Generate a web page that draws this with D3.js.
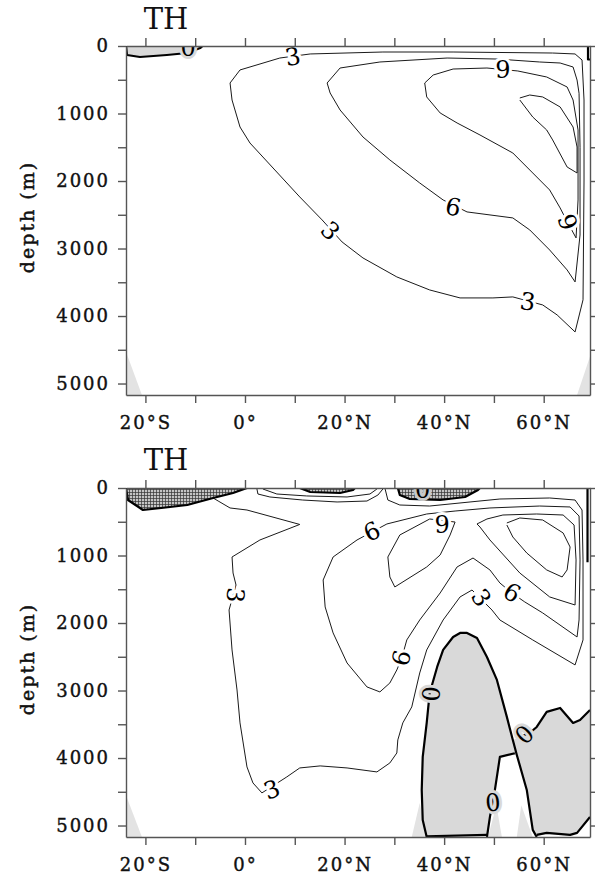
<!DOCTYPE html>
<html>
<head>
<meta charset="utf-8">
<script src="https://cdn.jsdelivr.net/npm/d3@7"></script>
<style>
	body { margin: 0; background: #fff; }
	svg { display: block; }
</style>
</head>
<body>
<div id="chart"></div>
<script>
// Axis ticks and labels
const latTicks = [-20, -10, 0, 10, 20, 30, 40, 50, 60];
const latLabels = { "-20": "20°S", "0": "0°", "20": "20°N", "40": "40°N", "60": "60°N" };
const depthTicks = [0, 500, 1000, 1500, 2000, 2500, 3000, 3500, 4000, 4500, 5000];

// Bottom topography (light grey wedges), [lat, depth]
const topoTop = [
	[[-23.9, 4530], [-23.9, 5170], [-20.7, 5170]],
	[[66.7, 5170], [69.3, 4600], [69.3, 5170]],
];
const topoBot = [
	[[-23.9, 4550], [-23.9, 5170], [-20.7, 5170]],
	[[33.5, 5170], [35.1, 4665], [36.5, 5170]],
	[[48.8, 5170], [50.5, 4700], [51.6, 5170]],
	[[54.6, 5170], [55.5, 4700], [57.8, 5170]],
];

// ---- upper panel, contours as [lat, depth] ----
const topNeg = [[-23.9, 0], [-23.7, 133], [-21.1, 163], [-15.7, 133], [-11.6, 104], [-9.0, 30], [-8.5, 0]];
const topWall0 = [[68.9, 0], [68.9, 200], [69.3, 200]];
const top3 = [[66.3, 4236], [67.9, 3760], [68.1, 2000], [68.1, 800], [67.7, 207], [66.3, 118], [61.8, 104],
	[41.8, 89], [27.7, 89], [13.1, 118], [7.0, 178], [-1.0, 355], [-3.0, 548], [-2.6, 800], [-1.0, 1200],
	[1.0, 1437], [11.0, 2236], [15.5, 2577], [19.5, 2903], [23.7, 3140], [30.5, 3421], [37.1, 3614],
	[43.2, 3732], [49.8, 3732], [53.8, 3717], [59.8, 3836], [62.7, 3984], [66.3, 4236]];
const top6 = [[66.3, 3495], [67.3, 2800], [67.3, 1500], [67.1, 700], [66.7, 504], [65.9, 311], [63.3, 252],
	[59.2, 237], [50.6, 193], [40.6, 178], [27.1, 237], [19.1, 326], [16.5, 548], [17.1, 696], [19.1, 948],
	[23.7, 1348], [29.1, 1688], [35.1, 2029], [39.8, 2281], [44.6, 2458], [53.8, 2547], [57.2, 2725],
	[61.2, 3022], [64.7, 3317], [66.3, 3495]];
const top9 = [[66.5, 2843], [66.9, 2281], [66.9, 1244], [65.9, 800], [64.7, 607], [60.6, 459], [54.8, 370],
	[48.6, 326], [41.8, 341], [37.8, 430], [36.1, 548], [36.5, 755], [39.2, 992], [42.6, 1140], [47.2, 1318],
	[53.8, 1585], [57.8, 1881], [61.2, 2133], [63.3, 2399], [64.7, 2600], [66.5, 2843]];
const top12 = [[55.2, 770], [57.2, 726], [59.8, 755], [63.3, 903], [65.9, 1200], [66.7, 1496], [66.7, 1881],
	[64.7, 1792], [61.8, 1392], [60.6, 1244], [57.8, 1052], [55.2, 800]];
const topLabels = [
	{ t: "3", lat: 9.6, d: 163, r: -10 },
	{ t: "3", lat: 17.1, d: 2740, r: 45 },
	{ t: "3", lat: 56.8, d: 3790, r: 8 },
	{ t: "6", lat: 41.8, d: 2390, r: 12 },
	{ t: "9", lat: 51.8, d: 355, r: 0 },
	{ t: "9", lat: 64.7, d: 2610, r: 70 },
	{ t: "0", lat: -11.4, d: 30, r: 0, bg: "#d9d9d9" },
];

// ---- lower panel ----
const botNegW = [[-23.9, 0], [-23.5, 178], [-20.5, 326], [-11.6, 252], [-6.4, 148], [-2.4, 74], [0.4, 0]];
const botNegN = [[30.7, 0], [31.1, 104], [33.1, 163], [39.2, 178], [44.2, 133], [46.8, 30], [47.2, 0]];
const botNegT = [[11.0, 0], [13.1, 59], [19.1, 74], [21.7, 30], [22.1, 0]];
const botT1 = [[2.4, 15], [2.6, 89], [5.0, 133], [11.6, 178], [18.5, 207], [24.5, 193], [26.7, 104], [27.7, 15]];
const botT2 = [[3.6, 15], [6.4, 89], [12.4, 118], [20.5, 133], [25.1, 89], [26.5, 15]];
const bot3 = [[-6.4, 148], [-5.4, 192], [-3.0, 296], [0.4, 326], [11.0, 540], [3.0, 770], [-2.6, 1022],
	[-2.4, 1259], [-1.8, 1437], [-3.2, 1807], [-2.6, 2399], [-1.6, 2992], [-1.0, 3480], [0.4, 4132],
	[1.6, 4369], [3.4, 4517], [8.4, 4280], [11.0, 4147], [15.1, 4117], [20.5, 4147], [26.5, 4206],
	[29.1, 4073], [30.5, 3925], [30.7, 3732], [31.7, 3480], [33.5, 3243], [35.1, 2740], [36.5, 2399],
	[39.8, 1955], [43.2, 1614], [45.6, 1511], [49.6, 1807], [51.2, 1955], [57.8, 2251], [66.3, 2621],
	[67.9, 2251], [67.9, 1066], [67.7, 326], [66.3, 178], [61.2, 148], [51.2, 163], [45.2, 207],
	[37.1, 267], [31.1, 252], [28.7, 178], [28.1, 0]];
const bot6 = [[28.5, 533], [36.5, 385], [42.2, 341], [49.2, 296], [59.2, 267], [65.3, 281], [67.1, 415],
	[67.3, 1066], [67.1, 1955], [66.7, 2207], [59.8, 1851], [56.2, 1688], [53.6, 1555], [51.2, 1407],
	[49.2, 1214], [45.8, 1037], [42.6, 1170], [39.2, 1555], [35.1, 1955], [32.5, 2251], [31.5, 2518],
	[30.5, 2695], [29.1, 2888], [27.1, 3021], [24.5, 2947], [20.5, 2592], [17.7, 2147], [16.1, 1762],
	[15.7, 1363], [17.7, 1022], [22.5, 770], [25.5, 651], [28.5, 533]];
const bot9a = [[37.1, 459], [31.1, 696], [28.7, 1022], [29.1, 1318], [30.1, 1466], [36.5, 1170], [39.2, 992],
	[41.2, 696], [42.2, 504], [37.1, 459]];
const bot9b = [[46.6, 533], [48.6, 459], [51.8, 400], [58.6, 385], [63.9, 400], [66.1, 548], [66.5, 1066],
	[66.3, 1733], [61.2, 1614], [55.2, 1259], [49.2, 770], [47.2, 578], [46.6, 533]];
const bot12 = [[52.6, 518], [55.2, 444], [59.8, 474], [63.9, 666], [65.3, 874], [64.7, 1214], [63.7, 1318],
	[60.6, 1214], [56.6, 963], [53.8, 726], [52.6, 548]];
// deep negative cell (grey) and its zero lines
const botNeg0 = [[36.5, 5170], [35.7, 4917], [35.5, 4473], [35.7, 3984], [36.5, 3480], [37.1, 3036],
	[38.6, 2651], [39.8, 2399], [41.8, 2207], [43.2, 2147], [44.6, 2147], [46.6, 2222], [48.6, 2503],
	[50.6, 2843], [52.6, 3391], [53.8, 3732], [57.2, 3628], [58.6, 3540], [60.6, 3317], [63.3, 3258],
	[65.9, 3480], [67.3, 3436], [69.3, 3288], [69.3, 4872], [66.7, 5109], [65.3, 5139], [60.6, 5109],
	[58.6, 5139], [57.8, 5065], [56.6, 4473], [54.6, 3954], [53.8, 3954], [51.2, 3984], [50.2, 4473],
	[49.2, 4872], [48.6, 5139]];
const bot0Dome = [[36.5, 5170], [35.7, 4917], [35.5, 4473], [35.7, 3984], [36.5, 3480], [37.1, 3036],
	[38.6, 2651], [39.8, 2399], [41.8, 2207], [43.2, 2147], [44.6, 2147], [46.6, 2222], [48.6, 2503],
	[50.6, 2843], [52.6, 3391], [53.8, 3732], [54.6, 3954], [56.6, 4473], [57.8, 5065], [58.6, 5170]];
const bot0Notch = [[48.6, 5170], [49.2, 4872], [50.2, 4473], [51.2, 3984], [54.2, 3930]];
const bot0East = [[55.0, 3690], [57.2, 3628], [58.6, 3540], [60.6, 3317], [63.3, 3258], [65.9, 3480],
	[67.3, 3436], [69.3, 3288]];
const bot0Floor = [[58.6, 5139], [60.6, 5109], [65.3, 5139], [66.7, 5109], [69.3, 4872]];
const bot0Base = [[36.5, 5160], [48.6, 5139]];
const botWall0 = [[68.8, 0], [68.8, 1100]];
const botLabels = [
	{ t: "3", lat: -2.0, d: 1585, r: 95 },
	{ t: "3", lat: 5.4, d: 4470, r: -20 },
	{ t: "3", lat: 47.4, d: 1630, r: 55 },
	{ t: "6", lat: 25.5, d: 650, r: -25 },
	{ t: "6", lat: 31.5, d: 2520, r: -75 },
	{ t: "6", lat: 53.6, d: 1555, r: 30 },
	{ t: "9", lat: 39.6, d: 548, r: 0 },
	{ t: "0", lat: 37.5, d: 3050, r: -85, bg: "#d9d9d9" },
	{ t: "0", lat: 56.2, d: 3658, r: -45, bg: "#d9d9d9" },
	{ t: "0", lat: 49.8, d: 4665, r: -5, bg: "#d9d9d9" },
	{ t: "0", lat: 35.7, d: 35, r: 0, bg: "#c8c8c8" },
];

const panels = [
	{
		top: 46, titleY: 29, topo: topoTop,
		grey: [topNeg], hatched: [],
		thin: [top3, top6, top9, top12],
		thick: [topNeg, topWall0],
		labels: topLabels,
	},
	{
		top: 488, titleY: 470, topo: topoBot,
		grey: [botNeg0], hatched: [botNegW, botNegN, botNegT],
		thin: [botT1, botT2, bot3, bot6, bot9a, bot9b, bot12],
		thick: [botNegW, botNegN, botNegT, bot0Dome, bot0Notch, bot0East, bot0Floor, bot0Base, botWall0],
		labels: botLabels,
	},
];

const width = 595;
const height = 876;
const plotH = 349;
const serif = "'DejaVu Serif', serif";

const svg = d3
	.select("#chart")
	.append("svg")
	.attr("width", width)
	.attr("height", height);

const defs = svg.append("defs");

// Dense crosshatch used for the shallow negative cells
const hatch = defs
	.append("pattern")
	.attr("id", "hatch")
	.attr("patternUnits", "userSpaceOnUse")
	.attr("width", 3)
	.attr("height", 3);
hatch.append("rect").attr("width", 3).attr("height", 3).attr("fill", "#c4c4c4");
hatch
	.append("path")
	.attr("d", "M0,0.5H3M0.5,0V3")
	.attr("stroke", "#333")
	.attr("stroke-width", 0.7);

const x = d3.scaleLinear().domain([-23.9, 69.3]).range([126, 590]);

panels.forEach((p, i) => {
	const y = d3.scaleLinear().domain([0, 5170]).range([p.top, p.top + plotH]);
	const line = d3.line().x((d) => x(d[0])).y((d) => y(d[1]));

	defs
		.append("clipPath")
		.attr("id", `clip${i}`)
		.append("rect")
		.attr("x", x.range()[0])
		.attr("y", p.top)
		.attr("width", x.range()[1] - x.range()[0])
		.attr("height", plotH);

	const g = svg.append("g").attr("clip-path", `url(#clip${i})`);

	// topography
	g.selectAll(".topo")
		.data(p.topo)
		.enter()
		.append("path")
		.attr("d", (d) => line(d) + "Z")
		.attr("fill", "#e3e3e3");

	// negative regions
	g.selectAll(".grey")
		.data(p.grey)
		.enter()
		.append("path")
		.attr("d", (d) => line(d) + "Z")
		.attr("fill", "#d9d9d9");

	g.selectAll(".hatched")
		.data(p.hatched)
		.enter()
		.append("path")
		.attr("d", (d) => line(d) + "Z")
		.attr("fill", "url(#hatch)");

	// contour lines
	g.selectAll(".thin")
		.data(p.thin)
		.enter()
		.append("path")
		.attr("d", line)
		.attr("fill", "none")
		.attr("stroke", "#1a1a1a")
		.attr("stroke-width", 1)
		.attr("stroke-linejoin", "round");

	g.selectAll(".thick")
		.data(p.thick)
		.enter()
		.append("path")
		.attr("d", line)
		.attr("fill", "none")
		.attr("stroke", "#000")
		.attr("stroke-width", 2.2)
		.attr("stroke-linejoin", "round");

	// contour labels with a halo that breaks the line
	g.selectAll(".clabel")
		.data(p.labels)
		.enter()
		.append("text")
		.attr("transform", (d) => `translate(${x(d.lat)},${y(d.d)}) rotate(${d.r})`)
		.attr("text-anchor", "middle")
		.attr("dominant-baseline", "central")
		.attr("font-family", serif)
		.attr("font-size", 24)
		.attr("fill", "#000")
		.attr("stroke", (d) => d.bg || "#fff")
		.attr("stroke-width", 6)
		.attr("paint-order", "stroke")
		.text((d) => d.t);

	// axes
	const axes = svg.append("g");
	axes
		.append("g")
		.attr("transform", `translate(0,${p.top + plotH})`)
		.call(
			d3.axisBottom(x)
				.tickValues(latTicks)
				.tickSize(8)
				.tickSizeOuter(0)
				.tickPadding(13)
				.tickFormat((d) => latLabels[d] || "")
		);
	axes
		.append("g")
		.attr("transform", `translate(0,${p.top})`)
		.call(d3.axisTop(x).tickValues(latTicks).tickSize(8).tickSizeOuter(0).tickFormat(""));
	axes
		.append("g")
		.attr("transform", `translate(${x.range()[0]},0)`)
		.call(
			d3.axisLeft(y)
				.tickValues(depthTicks)
				.tickSize(8)
				.tickSizeOuter(0)
				.tickPadding(8)
				.tickFormat((d) => (d % 1000 === 0 ? d : ""))
		);
	axes
		.append("g")
		.attr("transform", `translate(${x.range()[1]},0)`)
		.call(d3.axisRight(y).tickValues(depthTicks).tickSize(8).tickSizeOuter(0).tickFormat(""));

	axes.selectAll("path, line").attr("stroke", "#555").attr("stroke-width", 1.4);
	axes
		.selectAll("text")
		.attr("font-family", serif)
		.attr("font-size", 18)
		.attr("letter-spacing", "2px")
		.attr("fill", "#111")
		.attr("stroke", "#111")
		.attr("stroke-width", 0.4);

	// title and y label
	svg
		.append("text")
		.attr("x", 166)
		.attr("y", p.titleY)
		.attr("text-anchor", "middle")
		.attr("font-family", serif)
		.attr("font-size", 29)
		.attr("fill", "#111")
		.text("TH");

	svg
		.append("text")
		.attr("transform", `translate(34,${p.top + 171}) rotate(-90)`)
		.attr("text-anchor", "middle")
		.attr("font-family", serif)
		.attr("font-size", 19)
		.attr("letter-spacing", "2px")
		.attr("fill", "#111")
		.attr("stroke", "#111")
		.attr("stroke-width", 0.5)
		.text("depth (m)");
});
</script>
</body>
</html>
